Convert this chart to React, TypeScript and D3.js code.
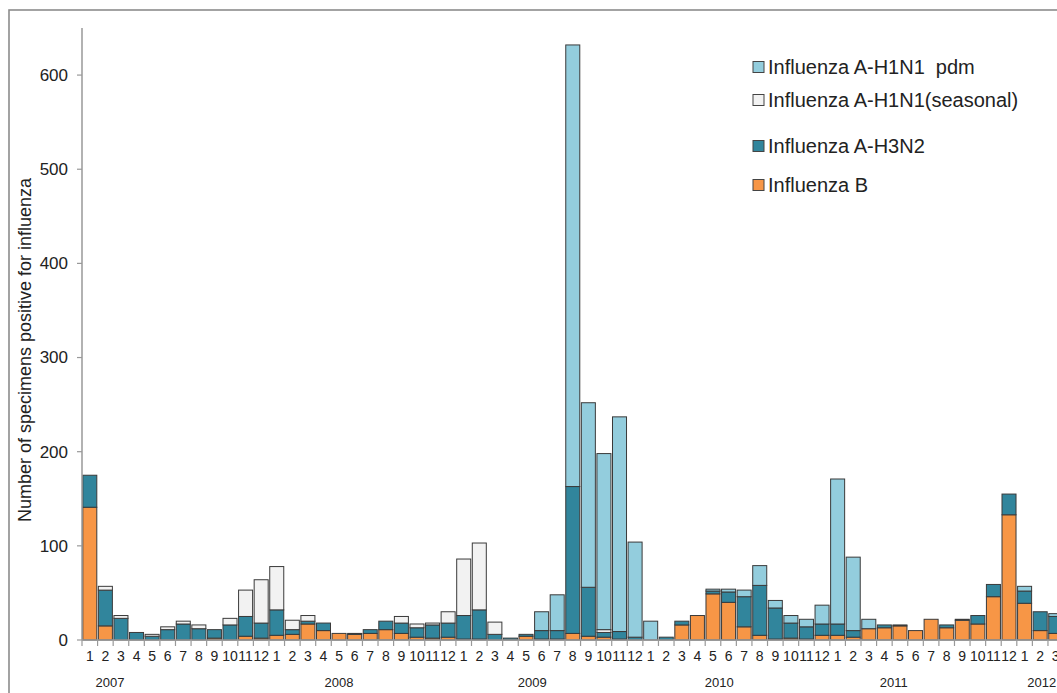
import * as d3 from "d3";

const years = ["2007", "2008", "2009", "2010", "2011", "2012"];
const monthNames = ["1", "2", "3", "4", "5", "6", "7", "8", "9", "10", "11", "12"];
const nMonths = 63; // Jan 2007 .. Mar 2012

// month index under which each year label sits
const yearAnchor = [1.3, 16, 28.4, 40.4, 51.6, 61.1];

const fluB = [
  141, 15, 0, 0, 0, 0, 0, 0, 2, 0, 4, 2,
  5, 6, 17, 10, 7, 6, 7, 11, 7, 3, 2, 3,
  1, 1, 0, 0, 4, 1, 1, 7, 4, 3, 1, 0,
  0, 0, 16, 26, 49, 40, 14, 5, 1, 2, 1, 5,
  5, 3, 12, 13, 15, 10, 22, 13, 21, 17, 46, 133,
  39, 10, 7,
];
const h3n2 = [
  34, 38, 23, 8, 4, 11, 17, 12, 9, 16, 21, 16,
  27, 5, 3, 8, 0, 1, 4, 9, 11, 10, 14, 15,
  25, 31, 6, 2, 2, 9, 9, 156, 52, 5, 8, 3,
  0, 3, 4, 0, 3, 11, 32, 53, 33, 16, 13, 12,
  12, 7, 0, 3, 1, 0, 0, 3, 1, 9, 13, 22,
  13, 20, 18,
];
const h1n1Seasonal = [
  0, 4, 3, 0, 2, 3, 3, 4, 0, 7, 28, 46,
  46, 10, 6, 0, 0, 0, 0, 0, 7, 4, 2, 12,
  60, 71, 13, 0, 0, 0, 0, 0, 0, 3, 0, 0,
  0, 0, 0, 0, 0, 0, 0, 0, 0, 0, 0, 0,
  0, 0, 0, 0, 0, 0, 0, 0, 0, 0, 0, 0,
  0, 0, 0,
];
const h1n1Pdm = [
  0, 0, 0, 0, 0, 0, 0, 0, 0, 0, 0, 0,
  0, 0, 0, 0, 0, 0, 0, 0, 0, 0, 0, 0,
  0, 0, 0, 0, 0, 20, 38, 469, 196, 187, 228, 101,
  20, 0, 0, 0, 2, 3, 7, 21, 8, 8, 8, 20,
  154, 78, 10, 0, 0, 0, 0, 0, 0, 0, 0, 0,
  5, 0, 3,
];

const seriesKeys = ["b", "h3n2", "seasonal", "pdm"];
const colors: Record<string, string> = {
  pdm: "#93cddd",
  seasonal: "#f2f2f2",
  h3n2: "#31859c",
  b: "#f79646",
};
const legendItems = [
  { key: "pdm", label: "Influenza A-H1N1  pdm" },
  { key: "seasonal", label: "Influenza A-H1N1(seasonal)" },
  { key: "h3n2", label: "Influenza A-H3N2" },
  { key: "b", label: "Influenza B" },
];
const legendRowY = [67, 100, 146, 185];

export default function App() {
  const width = 1057;
  const height = 693;
  const font = "'Liberation Sans', Arial, sans-serif";

  const monthLabels = d3.range(nMonths).map((i) => monthNames[i % 12]);
  const rows = d3.range(nMonths).map((i) => ({
    i,
    b: fluB[i],
    h3n2: h3n2[i],
    seasonal: h1n1Seasonal[i],
    pdm: h1n1Pdm[i],
  }));

  const x = d3
    .scaleBand<number>()
    .domain(d3.range(nMonths))
    .range([82, 82 + nMonths * 15.58])
    .paddingInner(0.1)
    .paddingOuter(0.05);
  const y = d3.scaleLinear().domain([0, 650]).range([640, 28]);
  const step = x.step();

  const stacked = d3.stack<any>().keys(seriesKeys)(rows);
  const yTicks = d3.range(0, 601, 100);

  return (
    <svg
      width={width}
      height={height}
      style={{ position: "absolute", left: 0, top: 0, background: "#fff" }}
      fontFamily={font}
    >
      <rect x={9} y={10} width={1200} height={800} fill="#fff" stroke="#8c8c8c" strokeWidth={1.6} />

      {/* bars */}
      {stacked.map((layer) => (
        <g key={layer.key} fill={colors[layer.key]}>
          {layer.map((d, idx) =>
            d[1] - d[0] > 0 ? (
              <rect
                key={idx}
                x={x(idx)}
                y={y(d[1])}
                width={x.bandwidth()}
                height={y(d[0]) - y(d[1])}
                stroke="#3a3a3a"
                strokeWidth={1}
              />
            ) : null
          )}
        </g>
      ))}

      {/* y axis */}
      <line x1={82} x2={82} y1={y(650)} y2={y(0)} stroke="#999" strokeWidth={1.5} />
      {yTicks.map((t) => (
        <g key={t}>
          <line x1={77} x2={82} y1={y(t)} y2={y(t)} stroke="#999" strokeWidth={1.2} />
          <text x={68} y={y(t)} dy="0.35em" textAnchor="end" fontSize={17} fill="#222">
            {t}
          </text>
        </g>
      ))}
      <text
        transform={`translate(31,350) rotate(-90)`}
        textAnchor="middle"
        fontSize={18}
        fill="#222"
      >
        Number of specimens positive for influenza
      </text>

      {/* x axis */}
      <line x1={82} x2={width} y1={y(0)} y2={y(0)} stroke="#999" strokeWidth={1.5} />
      {d3.range(nMonths + 1).map((i) => {
        const px = 82 + i * step + step * 0.0;
        return <line key={i} x1={px} x2={px} y1={y(0)} y2={y(0) + 6} stroke="#999" strokeWidth={1.2} />;
      })}
      {monthLabels.map((m, i) => (
        <text
          key={i}
          x={(x(i) as number) + x.bandwidth() / 2}
          y={661}
          textAnchor="middle"
          fontSize={14}
          fill="#222"
        >
          {m}
        </text>
      ))}
      {years.map((yr, k) => (
        <text
          key={yr}
          x={(x(0) as number) + x.bandwidth() / 2 + yearAnchor[k] * step}
          y={687}
          textAnchor="middle"
          fontSize={13}
          fill="#222"
        >
          {yr}
        </text>
      ))}

      {/* legend */}
      {legendItems.map((it, k) => (
        <g key={it.key} transform={`translate(753,${legendRowY[k]})`}>
          <rect x={0} y={-5.5} width={11} height={11} fill={colors[it.key]} stroke="#444" strokeWidth={1} />
          <text x={15} y={0} dy="0.35em" fontSize={20} fill="#222" style={{ whiteSpace: "pre" }}>
            {it.label}
          </text>
        </g>
      ))}
    </svg>
  );
}
